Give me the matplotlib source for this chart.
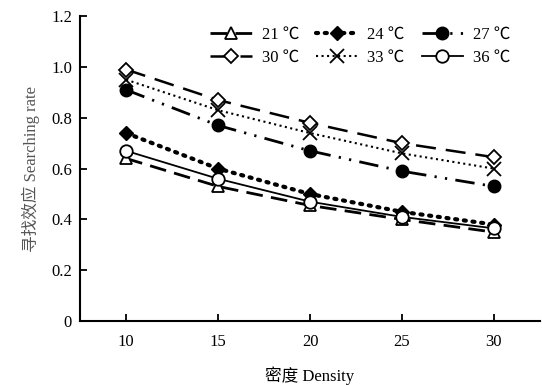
import numpy as np
import matplotlib.pyplot as plt

plt.rcParams['font.family'] = ['Liberation Serif', 'Noto Sans CJK SC']
plt.rcParams['font.size'] = 12

density = [10, 15, 20, 25, 30]
t21 = [0.64, 0.53, 0.455, 0.40, 0.35]
t24 = [0.74, 0.60, 0.50, 0.43, 0.38]
t27 = [0.91, 0.77, 0.67, 0.59, 0.53]
t30 = [0.99, 0.87, 0.78, 0.70, 0.645]
t33 = [0.95, 0.83, 0.74, 0.66, 0.60]
t36 = [0.67, 0.56, 0.47, 0.41, 0.365]
labels = ['21 ℃', '24 ℃', '27 ℃', '30 ℃', '33 ℃', '36 ℃']

fig = plt.figure(figsize=(5.42, 3.85), dpi=100)
ax = fig.add_axes([0.148, 0.166, 0.848, 0.792])

h21, = ax.plot(density, t21, color='k', lw=2, ls=(0, (6, 3)), marker='^', ms=8,
               mfc='w', mec='k', mew=1.3, label=labels[0])
h24, = ax.plot(density, t24, color='k', lw=3, ls=(0, (0.5, 1.6)), dash_capstyle='round',
               marker='D', ms=7, mfc='k', mec='k', label=labels[1])
h27, = ax.plot(density, t27, color='k', lw=2, ls=(0, (7, 3, 0.8, 3, 0.8, 3)), marker='o', ms=9,
               mfc='k', mec='k', label=labels[2])
h30, = ax.plot(density, t30, color='k', lw=1.8, ls=(0, (8, 4)), marker='D', ms=7,
               mfc='w', mec='k', mew=1.3, label=labels[3])
h33, = ax.plot(density, t33, color='k', lw=1.5, ls=':', marker='x', ms=10,
               mew=1.3, label=labels[4])
h36, = ax.plot(density, t36, color='k', lw=1.3, ls='-', marker='o', ms=9,
               mfc='w', mec='k', mew=1.3, label=labels[5])

ax.set_xlim(7.5, 32.5)
ax.set_ylim(0, 1.2)
ax.set_xticks(density)
ax.set_yticks([0, 0.2, 0.4, 0.6, 0.8, 1.0, 1.2])
ax.set_yticklabels(['0', '0.2', '0.4', '0.6', '0.8', '1.0', '1.2'])
ax.tick_params(direction='in', length=5, width=1.3, labelsize=12)
ax.tick_params(axis='x', pad=9)
ax.tick_params(axis='y', pad=6)
ax.spines['top'].set_visible(False)
ax.spines['right'].set_visible(False)
ax.spines['left'].set_linewidth(1.5)
ax.spines['bottom'].set_linewidth(1.5)

ax.set_xlabel('密度 Density', fontsize=12, labelpad=12)
ax.set_ylabel('寻找效应 Searching rate', fontsize=12, color='#555555', labelpad=8)

# row-wise order for a 3-column legend
ax.legend([h21, h30, h24, h33, h27, h36],
          [labels[0], labels[3], labels[1], labels[4], labels[2], labels[5]],
          ncol=3, loc='upper left', bbox_to_anchor=(0.25, 1.015), frameon=False,
          fontsize=12, handlelength=2.5, columnspacing=1.0, handletextpad=0.6,
          labelspacing=0.45)

fig.savefig('out.png', dpi=100)
